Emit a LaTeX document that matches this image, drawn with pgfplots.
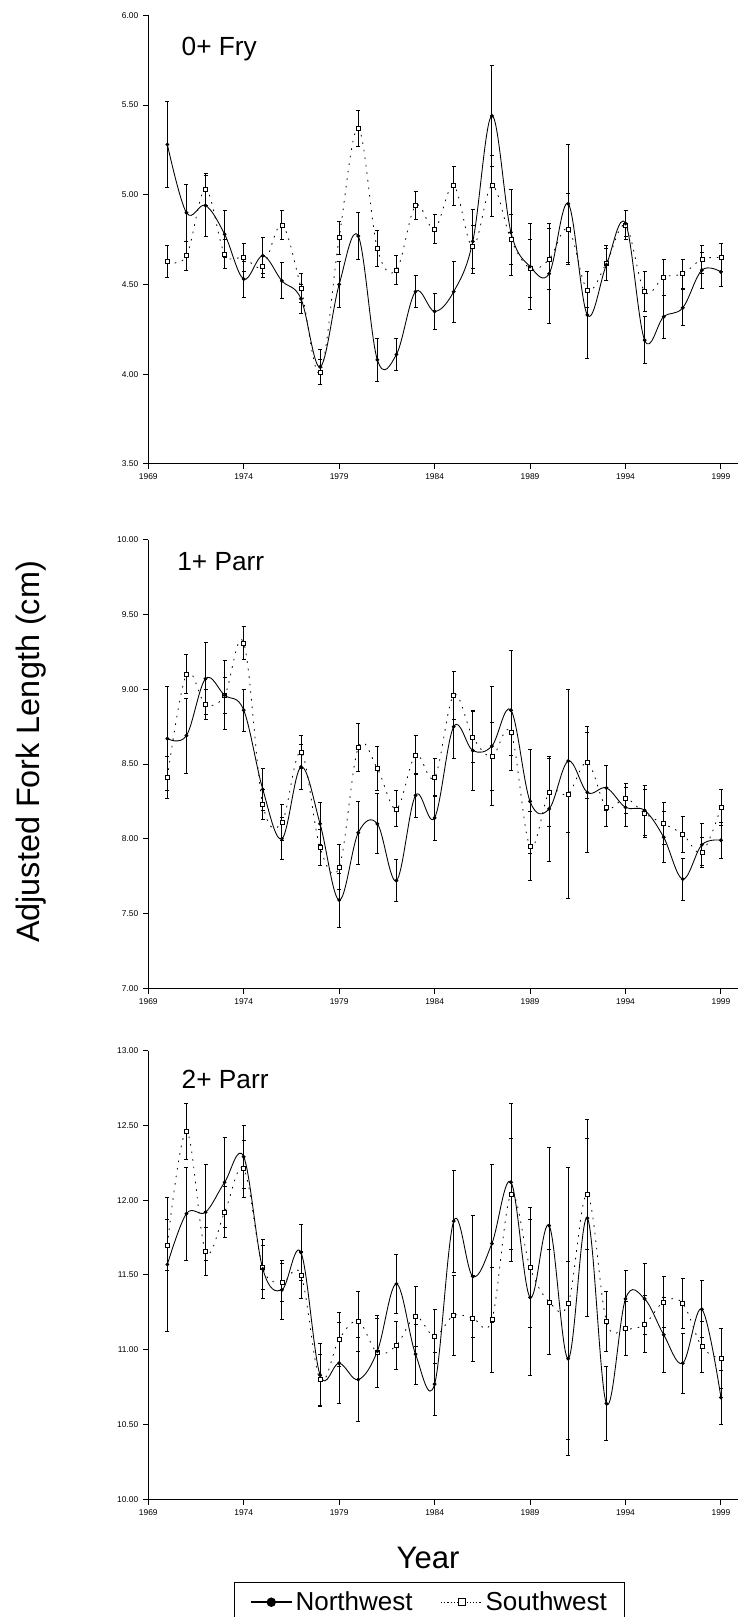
\documentclass[border=0pt]{standalone}
\usepackage{pgfplots}
\usepackage{pgfplotstable}
\pgfplotsset{compat=1.18}
\usepackage{fontspec}
\setmainfont{Liberation Sans}

% year, Northwest mean, NW error, Southwest mean, SW error
\pgfplotstableread{
year nw nwe sw swe
1970 5.28 0.24 4.63 0.09
1971 4.90 0.16 4.66 0.08
1972 4.94 0.17 5.03 0.09
1973 4.78 0.13 4.67 0.08
1974 4.53 0.10 4.65 0.08
1975 4.66 0.10 4.60 0.06
1976 4.52 0.10 4.83 0.08
1977 4.42 0.08 4.48 0.08
1978 4.04 0.10 4.01 0.07
1979 4.50 0.13 4.76 0.09
1980 4.77 0.13 5.37 0.10
1981 4.08 0.12 4.70 0.10
1982 4.11 0.09 4.58 0.08
1983 4.46 0.09 4.94 0.08
1984 4.35 0.10 4.81 0.08
1985 4.46 0.17 5.05 0.11
1986 4.74 0.18 4.71 0.12
1987 5.44 0.28 5.05 0.17
1988 4.79 0.24 4.75 0.14
1989 4.60 0.24 4.59 0.16
1990 4.56 0.28 4.64 0.17
1991 4.95 0.33 4.81 0.20
1992 4.33 0.24 4.47 0.10
1993 4.61 0.09 4.62 0.10
1994 4.84 0.07 4.83 0.08
1995 4.19 0.13 4.46 0.11
1996 4.32 0.12 4.54 0.10
1997 4.37 0.10 4.56 0.08
1998 4.58 0.10 4.64 0.08
1999 4.57 0.08 4.65 0.08
}\fry

\pgfplotstableread{
year nw nwe sw swe
1970 8.67 0.35 8.41 0.14
1971 8.69 0.25 9.10 0.13
1972 9.07 0.24 8.90 0.10
1973 8.96 0.23 8.96 0.12
1974 8.86 0.14 9.31 0.11
1975 8.33 0.14 8.23 0.10
1976 8.00 0.14 8.11 0.12
1977 8.48 0.15 8.58 0.11
1978 8.10 0.14 7.94 0.12
1979 7.59 0.18 7.81 0.15
1980 8.04 0.21 8.61 0.16
1981 8.10 0.20 8.47 0.15
1982 7.72 0.14 8.20 0.12
1983 8.29 0.15 8.56 0.13
1984 8.14 0.15 8.41 0.13
1985 8.75 0.21 8.96 0.16
1986 8.59 0.27 8.68 0.17
1987 8.62 0.40 8.55 0.23
1988 8.86 0.40 8.71 0.15
1989 8.25 0.35 7.95 0.23
1990 8.20 0.35 8.31 0.23
1991 8.52 0.48 8.30 0.70
1992 8.31 0.40 8.51 0.24
1993 8.34 0.15 8.21 0.13
1994 8.21 0.13 8.27 0.10
1995 8.19 0.17 8.17 0.16
1996 8.01 0.17 8.10 0.14
1997 7.73 0.14 8.03 0.12
1998 7.96 0.14 7.91 0.10
1999 7.99 0.12 8.21 0.12
}\parrone

\pgfplotstableread{
year nw nwe sw swe
1970 11.57 0.45 11.70 0.17
1971 11.91 0.31 12.46 0.19
1972 11.92 0.32 11.66 0.16
1973 12.12 0.30 11.92 0.17
1974 12.29 0.21 12.21 0.19
1975 11.54 0.20 11.55 0.15
1976 11.40 0.20 11.45 0.13
1977 11.65 0.19 11.50 0.16
1978 10.83 0.21 10.80 0.17
1979 10.91 0.27 11.07 0.18
1980 10.80 0.28 11.19 0.20
1981 10.99 0.24 10.98 0.23
1982 11.44 0.20 11.03 0.16
1983 10.97 0.20 11.22 0.20
1984 10.77 0.21 11.09 0.18
1985 11.86 0.34 11.23 0.27
1986 11.49 0.41 11.21 0.29
1987 11.71 0.53 11.20 0.35
1988 12.12 0.53 12.04 0.37
1989 11.35 0.52 11.55 0.40
1990 11.83 0.52 11.32 0.35
1991 10.94 0.65 11.31 0.91
1992 11.88 0.66 12.04 0.37
1993 10.64 0.25 11.19 0.20
1994 11.34 0.19 11.14 0.18
1995 11.34 0.24 11.17 0.19
1996 11.10 0.25 11.32 0.17
1997 10.91 0.20 11.31 0.17
1998 11.27 0.19 11.02 0.17
1999 10.68 0.18 10.94 0.20
}\parrtwo

\pgfplotsset{
  panel/.style={
    anchor=north west, scale only axis,
    width=442.4pt, height=336.4pt,
    xmin=1969, xmax=1999.9,
    xtick={1969,1974,...,1999},
    axis lines*=left,
    axis line style={line width=0.75pt, black},
    tick align=outside, major tick length=4pt,
    tick style={black, line width=0.7pt},
    minor tick num=0,
    ticklabel style={font=\fontsize{6.3}{7}\selectfont},
    /pgf/number format/assume math mode=true,
    x tick label style={/pgf/number format/1000 sep={}},
    y tick label style={/pgf/number format/.cd, fixed, fixed zerofill, precision=2},
    clip=false,
  },
  ebars/.style={
    error bars/y dir=both, error bars/y explicit,
    error bars/error mark=-,
    error bars/error bar style={line width=0.65pt, solid},
    error bars/error mark options={rotate=90, black, mark size=1.5pt, line width=0.65pt, solid},
  },
  nw/.style={
    black, line width=0.65pt, smooth, tension=0.6,
    mark=*, mark size=1.1pt, ebars,
  },
  sw/.style={
    black, line width=0.6pt, smooth, tension=0.6,
    dash pattern=on 1.2pt off 4.5pt,
    mark=square*, mark size=1.5pt,
    mark options={solid, fill=white, line width=0.5pt}, ebars,
  },
}

\begin{document}
\begin{tikzpicture}
\path[use as bounding box] (0pt,0pt) rectangle (554.25pt,-1212.75pt);

% 0+ Fry
\begin{axis}[panel, at={(111.2pt,-11.5pt)},
  ymin=3.5, ymax=6, ytick={3.5,4,...,6}]
\addplot[sw] table[x=year, y=sw, y error=swe] {\fry};
\addplot[nw] table[x=year, y=nw, y error=nwe] {\fry};
\end{axis}

% 1+ Parr
\begin{axis}[panel, at={(111.2pt,-404.8pt)},
  ymin=7, ymax=10, ytick={7,7.5,...,10}]
\addplot[sw] table[x=year, y=sw, y error=swe] {\parrone};
\addplot[nw] table[x=year, y=nw, y error=nwe] {\parrone};
\end{axis}

% 2+ Parr
\begin{axis}[panel, at={(111.2pt,-788.0pt)},
  ymin=10, ymax=13, ytick={10,10.5,...,13},
  legend style={at={(0.477,-0.1845)}, anchor=north, draw=black,
    line width=0.75pt, inner xsep=11.5pt, inner ysep=5pt,
    font=\fontsize{19.5}{22}\selectfont, legend columns=2,
    /tikz/every even column/.append style={column sep=19pt}},
  legend image code/.code={\draw[mark repeat=2, mark phase=2, #1]
    plot coordinates {(0pt,0pt) (15.5pt,0pt) (31pt,0pt)};}]
\addplot[forget plot, sw] table[x=year, y=sw, y error=swe] {\parrtwo};
\addplot[forget plot, nw] table[x=year, y=nw, y error=nwe] {\parrtwo};
\addlegendimage{black, line width=1.4pt, mark=*, mark size=2.8pt}
\addlegendentry{Northwest}
\addlegendimage{black, line width=0.7pt, dash pattern=on 0.8pt off 1.6pt,
  mark=square*, mark size=2.5pt, mark options={solid, fill=white, line width=0.7pt}}
\addlegendentry{Southwest}
\end{axis}

\node[anchor=base west, font=\fontsize{19.7}{23}\selectfont] at (132.75pt,-41.25pt) {0+ Fry};
\node[anchor=base west, font=\fontsize{19.7}{23}\selectfont] at (129.5pt,-427.5pt) {1+ Parr};
\node[anchor=base west, font=\fontsize{19.7}{23}\selectfont] at (132.75pt,-816.2pt) {2+ Parr};
\node[anchor=base, font=\fontsize{23.3}{27}\selectfont] at (321pt,-1176.2pt) {Year};
\node[anchor=base, rotate=90, font=\fontsize{24.3}{28}\selectfont] at (29.7pt,-564pt) {Adjusted Fork Length (cm)};
\end{tikzpicture}
\end{document}
